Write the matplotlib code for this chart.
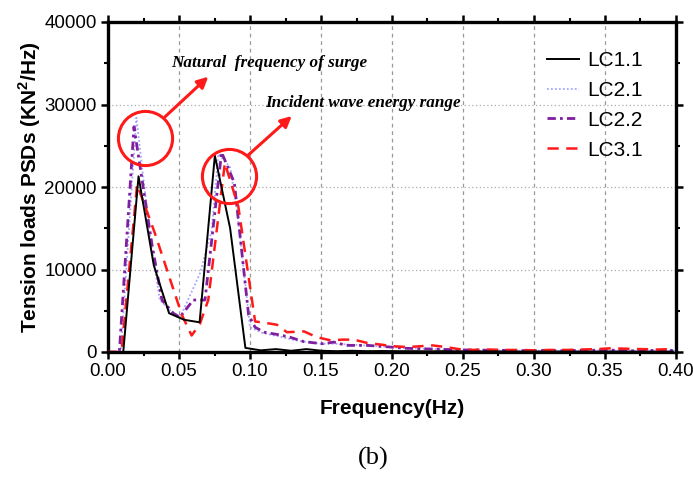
import matplotlib
matplotlib.use("Agg")
import matplotlib.pyplot as plt
from matplotlib.ticker import MultipleLocator

plt.rcParams['font.family'] = ['Liberation Sans', 'DejaVu Sans']
plt.rcParams['mathtext.fontset'] = 'custom'
plt.rcParams['mathtext.rm'] = 'Liberation Sans'
plt.rcParams['mathtext.bf'] = 'Liberation Sans:bold'

# ---------------- data ----------------
lc11_x = [0.0, 0.01075, 0.0215, 0.03225, 0.043, 0.05375, 0.0645, 0.07525, 0.086, 0.09675,
          0.1075, 0.11825, 0.129, 0.13975, 0.1505, 0.16125, 0.172, 0.18275, 0.1935, 0.20425,
          0.215, 0.22575, 0.2365, 0.24725, 0.258, 0.26875, 0.2795, 0.29025, 0.301, 0.31175,
          0.3225, 0.33325, 0.344, 0.35475, 0.3655, 0.37625, 0.387, 0.39775]
lc11_y = [0, 0, 21300, 10500, 4700, 3900, 3600, 23800, 15000, 500,
          200, 350, 150, 350, 150, 100, 150, 100, 120, 100,
          100, 80, 100, 80, 60, 80, 60, 50, 60, 50,
          60, 50, 50, 60, 50, 50, 40, 50]

lc21_x = [0.0, 0.009, 0.020, 0.030, 0.0365, 0.045, 0.051, 0.0647, 0.073, 0.0777, 0.086, 0.091,
          0.100, 0.109, 0.120, 0.130, 0.140, 0.150, 0.160, 0.170, 0.180, 0.190, 0.200,
          0.210, 0.220, 0.230, 0.240, 0.250, 0.260, 0.270, 0.280, 0.290, 0.300, 0.310,
          0.320, 0.330, 0.340, 0.350, 0.360, 0.370, 0.380, 0.390, 0.400]
lc21_y = [0, 0, 28400, 13500, 6300, 4800, 4300, 9500, 14700, 24000, 22400, 17000,
          3000, 2300, 1900, 1500, 1200, 1000, 1000, 900, 800, 700, 600,
          450, 400, 350, 300, 250, 200, 200, 180, 150, 150, 150,
          140, 150, 150, 200, 180, 150, 150, 150, 150]

lc22_x = [0.0, 0.008, 0.0183, 0.031, 0.038, 0.046, 0.0506, 0.060, 0.0683, 0.080, 0.089,
          0.099, 0.1036, 0.110, 0.120, 0.128, 0.138, 0.151, 0.159, 0.168, 0.183, 0.199,
          0.210, 0.220, 0.230, 0.240, 0.250, 0.260, 0.270, 0.280, 0.290, 0.300, 0.310,
          0.320, 0.330, 0.340, 0.350, 0.360, 0.370, 0.380, 0.390, 0.400]
lc22_y = [0, 0, 27300, 13000, 6300, 4700, 4200, 6300, 6300, 24200, 20500,
          4500, 3000, 2400, 2100, 1800, 1250, 1000, 1200, 800, 800, 600,
          450, 400, 350, 300, 250, 250, 200, 200, 180, 150, 200,
          150, 200, 200, 250, 200, 150, 200, 150, 200]

lc31_x = [0.0, 0.0095, 0.0205, 0.033, 0.052, 0.0589, 0.0647, 0.0706, 0.0823, 0.0918,
          0.1036, 0.112, 0.119, 0.126, 0.138, 0.147, 0.157, 0.165, 0.173, 0.1825,
          0.192, 0.201, 0.211, 0.220, 0.2285, 0.238, 0.247, 0.257, 0.268, 0.279,
          0.290, 0.300, 0.311, 0.322, 0.333, 0.344, 0.354, 0.365, 0.376, 0.387, 0.398]
lc31_y = [0, 0, 20300, 14400, 4500, 2000, 3400, 6300, 22900, 17600,
          3700, 3500, 3300, 2400, 2500, 1800, 1400, 1500, 1500, 1100,
          900, 700, 600, 700, 800, 600, 350, 250, 300, 250,
          250, 200, 250, 250, 300, 350, 450, 400, 350, 300, 350]

series_labels = ['LC1.1', 'LC2.1', 'LC2.2', 'LC3.1']
x_ticks = [0.00, 0.05, 0.10, 0.15, 0.20, 0.25, 0.30, 0.35, 0.40]
y_ticks = [0, 10000, 20000, 30000, 40000]

circle_x = [0.0259, 0.085]
circle_y = [25900, 21300]
ann_texts = ['Natural  frequency of surge', 'Incident wave energy range']
ann_text_xy = [(0.0444, 35000), (0.111, 30150)]
arrow_start = [(0.0401, 28500), (0.0988, 23880)]
arrow_tip = [(0.0706, 33370), (0.1294, 28600)]

# ---------------- figure ----------------
fig = plt.figure(figsize=(6.93, 4.8), dpi=100)
ax = fig.add_axes([108/693, 1-352/480, 568/693, 330/480])

ax.plot(lc11_x, lc11_y, color='black', lw=1.4, ls='-', label=series_labels[0], zorder=5)
ax.plot(lc21_x, lc21_y, color='#a6a6ff', lw=1.3, ls=(0, (1, 1.2)), label=series_labels[1], zorder=3)
ax.plot(lc22_x, lc22_y, color='#7f1f9f', lw=2.0, ls=(0, (3, 1.5, 1, 1.5)), label=series_labels[2], zorder=4)
ax.plot(lc31_x, lc31_y, color='#ff1a1a', lw=1.8, ls=(0, (4.5, 3)), label=series_labels[3], zorder=4)

ax.set_xlim(0, 0.40)
ax.set_ylim(0, 40000)
ax.set_xticks(x_ticks)
ax.set_xticklabels([f'{v:.2f}' for v in x_ticks])
ax.set_yticks(y_ticks)
ax.set_yticklabels([str(v) for v in y_ticks])
ax.xaxis.set_minor_locator(MultipleLocator(0.025))
ax.yaxis.set_minor_locator(MultipleLocator(5000))

ax.tick_params(which='both', direction='out', top=True, right=True, labeltop=False, labelright=False)
ax.tick_params(which='major', length=5, width=1.8, labelsize=13.5, pad=3)
ax.tick_params(which='minor', length=3, width=1.5)
for s in ax.spines.values():
    s.set_linewidth(2.4)

ax.grid(True, axis='x', which='major', ls=(0, (3, 3)), color='#999999', lw=0.9)
ax.grid(True, axis='y', which='major', ls=(0, (1, 2)), color='#aaaaaa', lw=0.9)
ax.set_axisbelow(True)

ax.set_xlabel('Frequency(Hz)', fontsize=15, fontweight='bold')
ax.set_ylabel('Tension loads PSDs (KN$^\\mathbf{2}$/Hz)', fontsize=15, fontweight='bold')
ax.xaxis.set_label_coords(0.5, -0.143)
ax.yaxis.set_label_coords(-0.115, 0.5)

# annotations
ax.plot(circle_x, circle_y, ls='none', marker='o', ms=39, mfc='none', mec='#ff1a1a', mew=2.2, zorder=6)
for (sx, sy), (tx, ty) in zip(arrow_start, arrow_tip):
    ax.annotate('', xy=(tx, ty), xytext=(sx, sy),
                arrowprops=dict(arrowstyle='-|>', color='#ff1a1a', lw=2.2, mutation_scale=16,
                                shrinkA=0, shrinkB=0), zorder=6)
for t, (x, y) in zip(ann_texts, ann_text_xy):
    ax.text(x, y, t, ha='left', va='center', fontsize=12.3, fontweight='bold', style='italic',
            family=['Liberation Serif', 'DejaVu Serif'], zorder=7)

leg = ax.legend(loc='upper left', bbox_to_anchor=((546.7-108)/568, (352-51)/330),
                frameon=False, fontsize=15, handlelength=1.55, handletextpad=0.4,
                labelspacing=0.52, borderpad=0, borderaxespad=0)

fig.text(373/693, 1-458/480, '(b)', ha='center', va='center', fontsize=19,
         family=['Liberation Serif', 'DejaVu Serif'])

fig.savefig('out.png', dpi=100)
